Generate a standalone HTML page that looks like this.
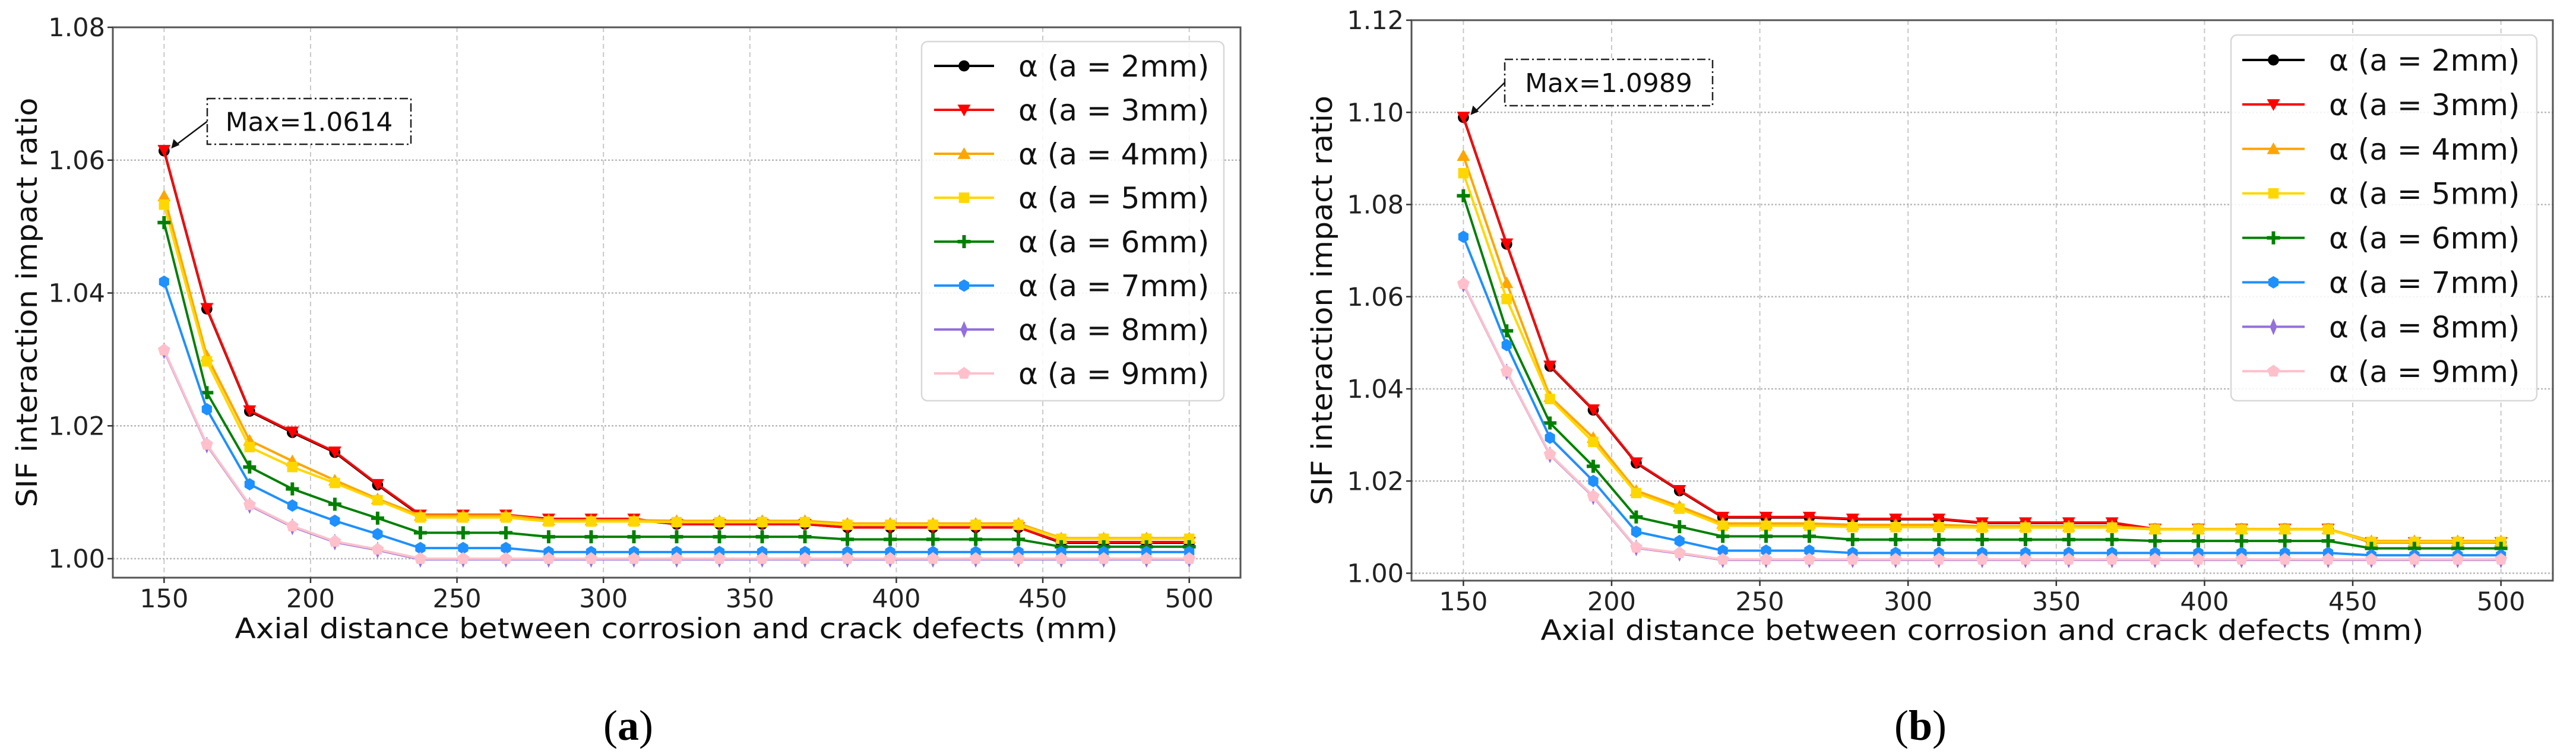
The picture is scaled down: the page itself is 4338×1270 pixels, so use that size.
<!DOCTYPE html>
<html><head><meta charset="utf-8">
<style>
html,body{margin:0;padding:0;background:#fff;}
svg{display:block;}
text{font-family:"DejaVu Sans","Liberation Sans",sans-serif;}
</style></head>
<body>
<svg id="fig" width="4338" height="1270" viewBox="0 0 4338 1270" xmlns="http://www.w3.org/2000/svg">
<rect width="4338" height="1270" fill="#fff"/>
</svg>
<script>
const xValues=[150,164.6,179.2,193.8,208.3,222.9,237.5,252.1,266.7,281.3,295.8,310.4,325,339.6,354.2,368.8,383.3,397.9,412.5,427.1,441.7,456.3,470.8,485.4,500];
const xTicks=[150,200,250,300,350,400,450,500];
const seriesLabels=["α (a = 2mm)","α (a = 3mm)","α (a = 4mm)","α (a = 5mm)","α (a = 6mm)","α (a = 7mm)","α (a = 8mm)","α (a = 9mm)"];
const aTicks=[1.00,1.02,1.04,1.06,1.08];
const aTickLabels=["1.00","1.02","1.04","1.06","1.08"];
const bTicks=[1.00,1.02,1.04,1.06,1.08,1.10,1.12];
const bTickLabels=["1.00","1.02","1.04","1.06","1.08","1.10","1.12"];
const aMaxLabel="Max=1.0614";
const bMaxLabel="Max=1.0989";
const a2=[1.0614,1.0376,1.0222,1.0190,1.0160,1.0111,1.0065,1.0065,1.0065,1.0059,1.0059,1.0059,1.0052,1.0052,1.0052,1.0052,1.0047,1.0047,1.0047,1.0047,1.0047,1.0024,1.0024,1.0024,1.0024];
const a3=[1.0615,1.0377,1.0223,1.0191,1.0161,1.0112,1.0066,1.0066,1.0066,1.0060,1.0060,1.0060,1.0052,1.0052,1.0052,1.0052,1.0047,1.0047,1.0047,1.0047,1.0047,1.0025,1.0025,1.0025,1.0025];
const a4=[1.0546,1.0305,1.0178,1.0147,1.0118,1.0090,1.0065,1.0065,1.0065,1.0058,1.0058,1.0058,1.0057,1.0057,1.0057,1.0057,1.0053,1.0053,1.0053,1.0053,1.0053,1.0031,1.0031,1.0031,1.0031];
const a5=[1.0533,1.0297,1.0168,1.0138,1.0114,1.0088,1.0062,1.0062,1.0062,1.0056,1.0056,1.0056,1.0055,1.0055,1.0055,1.0055,1.0051,1.0051,1.0051,1.0051,1.0051,1.0030,1.0030,1.0030,1.0030];
const a6=[1.0506,1.0250,1.0138,1.0105,1.0082,1.0061,1.0039,1.0039,1.0039,1.0033,1.0033,1.0033,1.0033,1.0033,1.0033,1.0033,1.0029,1.0029,1.0029,1.0029,1.0029,1.0018,1.0018,1.0018,1.0018];
const a7=[1.0417,1.0225,1.0112,1.0080,1.0057,1.0037,1.0016,1.0016,1.0016,1.0010,1.0010,1.0010,1.0010,1.0010,1.0010,1.0010,1.0010,1.0010,1.0010,1.0010,1.0010,1.0010,1.0010,1.0010,1.0010];
const a8=[1.0313,1.0171,1.0080,1.0048,1.0025,1.0013,0.9999,0.9999,0.9999,0.9999,0.9999,0.9999,0.9999,0.9999,0.9999,0.9999,0.9999,0.9999,0.9999,0.9999,0.9999,0.9999,0.9999,0.9999,0.9999];
const a9=[1.0314,1.0172,1.0081,1.0049,1.0026,1.0014,1.0000,1.0000,1.0000,1.0000,1.0000,1.0000,1.0000,1.0000,1.0000,1.0000,1.0000,1.0000,1.0000,1.0000,1.0000,1.0000,1.0000,1.0000,1.0000];
const b2=[1.0989,1.0714,1.0449,1.0354,1.0239,1.0179,1.0121,1.0121,1.0121,1.0117,1.0117,1.0117,1.0109,1.0109,1.0109,1.0109,1.0096,1.0096,1.0096,1.0096,1.0096,1.0067,1.0067,1.0067,1.0067];
const b3=[1.0990,1.0715,1.0450,1.0355,1.0240,1.0180,1.0122,1.0122,1.0122,1.0118,1.0118,1.0118,1.0110,1.0110,1.0110,1.0110,1.0096,1.0096,1.0096,1.0096,1.0096,1.0067,1.0067,1.0067,1.0067];
const b4=[1.0906,1.0630,1.0383,1.0294,1.0179,1.0145,1.0108,1.0108,1.0108,1.0105,1.0105,1.0105,1.0102,1.0102,1.0102,1.0102,1.0096,1.0096,1.0096,1.0096,1.0096,1.0070,1.0070,1.0070,1.0070];
const b5=[1.0868,1.0595,1.0378,1.0285,1.0174,1.0140,1.0103,1.0103,1.0103,1.0100,1.0100,1.0100,1.0099,1.0099,1.0099,1.0099,1.0095,1.0095,1.0095,1.0095,1.0095,1.0068,1.0068,1.0068,1.0068];
const b6=[1.0819,1.0526,1.0326,1.0232,1.0122,1.0101,1.0080,1.0080,1.0080,1.0073,1.0073,1.0073,1.0073,1.0073,1.0073,1.0073,1.0070,1.0070,1.0070,1.0070,1.0070,1.0054,1.0054,1.0054,1.0054];
const b7=[1.0730,1.0495,1.0294,1.0200,1.0090,1.0070,1.0049,1.0049,1.0049,1.0044,1.0044,1.0044,1.0044,1.0044,1.0044,1.0044,1.0044,1.0044,1.0044,1.0044,1.0044,1.0039,1.0039,1.0039,1.0039];
const b8=[1.0627,1.0437,1.0257,1.0166,1.0055,1.0043,1.0029,1.0029,1.0029,1.0029,1.0029,1.0029,1.0029,1.0029,1.0029,1.0029,1.0029,1.0029,1.0029,1.0029,1.0029,1.0029,1.0029,1.0029,1.0029];
const b9=[1.0628,1.0438,1.0258,1.0167,1.0056,1.0044,1.0030,1.0030,1.0030,1.0030,1.0030,1.0030,1.0030,1.0030,1.0030,1.0030,1.0030,1.0030,1.0030,1.0030,1.0030,1.0030,1.0030,1.0030,1.0030];

const colors=["#000000","#ff0000","#ffa500","#ffd700","#008000","#1e90ff","#9370db","#ffc0cb"];
const markers=["circle","tridown","triup","square","plus","hex","thindiamond","pentagon"];
const NS="http://www.w3.org/2000/svg";
const fig=document.getElementById('fig');
function mk(tag,attrs,parent){const e=document.createElementNS(NS,tag);for(const k in attrs)e.setAttribute(k,attrs[k]);(parent||fig).appendChild(e);return e;}

function marker(g,type,cx,cy,col){
  const s=11;let e;
  if(type==="circle")e=mk('circle',{cx:cx,cy:cy,r:s*0.85,fill:col},g);
  else if(type==="tridown")e=mk('polygon',{points:`${cx-s},${cy-s*0.8} ${cx+s},${cy-s*0.8} ${cx},${cy+s}`,fill:col},g);
  else if(type==="triup")e=mk('polygon',{points:`${cx-s},${cy+s*0.8} ${cx+s},${cy+s*0.8} ${cx},${cy-s}`,fill:col},g);
  else if(type==="square")e=mk('rect',{x:cx-s*0.8,y:cy-s*0.8,width:s*1.6,height:s*1.6,fill:col},g);
  else if(type==="plus")e=mk('path',{d:`M${cx-s},${cy-3}h${s-3}v${-s+3}h6v${s-3}h${s-3}v6h${-s+3}v${s-3}h-6v${-s+3}h${-s+3}z`,fill:col},g);
  else if(type==="hex"){let p=[];for(let k=0;k<6;k++){const a=Math.PI/3*k+Math.PI/2;p.push((cx+s*0.9*Math.cos(a))+','+(cy+s*0.95*Math.sin(a)));}e=mk('polygon',{points:p.join(' '),fill:col},g);}
  else if(type==="thindiamond")e=mk('polygon',{points:`${cx},${cy-s*1.3} ${cx+s*0.55},${cy} ${cx},${cy+s*1.3} ${cx-s*0.55},${cy}`,fill:col},g);
  else {let p=[];for(let k=0;k<5;k++){const a=-Math.PI/2+2*Math.PI/5*k;p.push((cx+s*Math.cos(a))+','+(cy+s*Math.sin(a)));}e=mk('polygon',{points:p.join(' '),fill:col},g);}
  
  
}

function panel(cfg){
  const g=mk('g',{});
  
  
  const L=cfg.L,R=cfg.R,T=cfg.T,B=cfg.B;
  const xs=v=>L+(v-132.5)/(517.5-132.5)*(R-L);
  const ys=v=>B-(v-cfg.ymin)/(cfg.ymax-cfg.ymin)*(B-T);
  xTicks.forEach(t=>{const l=mk('line',{x1:xs(t),x2:xs(t),y1:T,y2:B,stroke:'#c8c8c8','stroke-width':2,'stroke-dasharray':'8,6'},g);
    });
  cfg.yt.forEach(t=>{const l=mk('line',{x1:L,x2:R,y1:ys(t),y2:ys(t),stroke:'#b8b8b8','stroke-width':2.5,'stroke-dasharray':'3,3'},g);
    });
  cfg.series.forEach((d,si)=>{
    const sg=mk('g',{},g);
    
    
    const pts=d.map((v,i)=>xs(xValues[i])+','+ys(v)).join(' ');
    const pl=mk('polyline',{points:pts,fill:'none',stroke:colors[si],'stroke-width':4,'stroke-linejoin':'round'},sg);
    
    
    d.forEach((v,i)=>marker(sg,markers[si],xs(xValues[i]),ys(v),colors[si]));
  });
  const fr=mk('rect',{x:L,y:T,width:R-L,height:B-T,fill:'none',stroke:'#555','stroke-width':3},g);
  
  xTicks.forEach(t=>{mk('line',{x1:xs(t),x2:xs(t),y1:B,y2:B+9,stroke:'#333','stroke-width':2.5},g);
    const tx=mk('text',{x:xs(t),y:B+50,'font-size':43,'text-anchor':'middle',fill:'#222'},g);tx.textContent=t;
    });
  cfg.yt.forEach((t,i)=>{mk('line',{x1:L-9,x2:L,y1:ys(t),y2:ys(t),stroke:'#333','stroke-width':2.5},g);
    const tx=mk('text',{x:L-13,y:ys(t)+15,'font-size':43,'text-anchor':'end',fill:'#222'},g);tx.textContent=cfg.ytl[i];
    });
  const xl=mk('text',{x:cfg.xlx,y:cfg.xly,'font-size':47,'text-anchor':'middle',fill:'#111',textLength:1487,lengthAdjust:'spacingAndGlyphs'},g);
  xl.textContent="Axial distance between corrosion and crack defects (mm)";
  
  const yl=mk('text',{x:0,y:0,'font-size':48,'text-anchor':'middle',fill:'#111',transform:`translate(${cfg.ylx},${(T+B)/2}) rotate(-90)`,textLength:690,lengthAdjust:'spacingAndGlyphs'},g);
  yl.textContent="SIF interaction impact ratio";
  
  const lg=mk('g',{},g);
  
  mk('rect',{x:cfg.lg.x,y:cfg.lg.y,width:cfg.lg.w,height:cfg.lg.h,rx:10,fill:'#fff','fill-opacity':0.85,stroke:'#d8d8d8','stroke-width':2.5},lg);
  seriesLabels.forEach((lab,i)=>{
    const ey=cfg.lg.ey0+i*cfg.lg.dy;
    const eg=mk('g',{},lg);
    
    mk('line',{x1:cfg.lg.lx1,x2:cfg.lg.lx2,y1:ey,y2:ey,stroke:colors[i],'stroke-width':4},eg);
    marker(eg,markers[i],(cfg.lg.lx1+cfg.lg.lx2)/2,ey,colors[i]);
    const t=mk('text',{x:cfg.lg.tx,y:ey+18,'font-size':50,fill:'#111'},eg);t.textContent=lab;
  });
  const ag=mk('g',{},g);
  
  const A=cfg.an;
  mk('rect',{x:A.x,y:A.y,width:A.w,height:A.h,fill:'#fff',stroke:'#222','stroke-width':2.5,'stroke-dasharray':'14,5,3,5'},ag);
  const at=mk('text',{x:A.x+A.w/2,y:A.y+A.h/2+16,'font-size':44,'text-anchor':'middle',fill:'#111'},ag);at.textContent=cfg.maxLabel;
  const tx=xs(xValues[0])+12,ty=ys(cfg.series[0][0])-4;
  mk('line',{x1:A.x,x2:tx+8,y1:A.y+A.h/2,y2:ty-6,stroke:'#111','stroke-width':2.5},ag);
  mk('polygon',{points:`${tx},${ty} ${tx+4},${ty-16} ${tx+14},${ty-6}`,fill:'#111'},ag);
  const cap=mk('text',{x:cfg.capx,y:1246,'text-anchor':'middle',fill:'#000',style:'font-family:"Liberation Serif",serif;font-size:72px'},g);
  cap.innerHTML='(<tspan font-weight="bold">'+cfg.cap+'</tspan>)';
  
}

panel({name:'chart-a',L:190,R:2089,T:46,B:973,ymin:0.99714,ymax:1.08,yt:aTicks,ytl:aTickLabels,
  series:[a2,a3,a4,a5,a6,a7,a8,a9],xlx:1139,xly:1075,ylx:62,
  lg:{x:1552,y:70,w:509,h:605,ey0:111,dy:74,lx1:1573,lx2:1674,tx:1715},
  an:{x:349,y:166,w:343,h:77},maxLabel:aMaxLabel,capx:1058,cap:'a'});
panel({name:'chart-b',L:2377,R:4299,T:34,B:978,ymin:0.99839,ymax:1.12,yt:bTicks,ytl:bTickLabels,
  series:[b2,b3,b4,b5,b6,b7,b8,b9],xlx:3338,xly:1078,ylx:2243,
  lg:{x:3757,y:59,w:515,h:616,ey0:101,dy:74.9,lx1:3776,lx2:3881,tx:3922},
  an:{x:2534,y:100,w:350,h:78},maxLabel:bMaxLabel,capx:3234,cap:'b'});
</script>
</body></html>
